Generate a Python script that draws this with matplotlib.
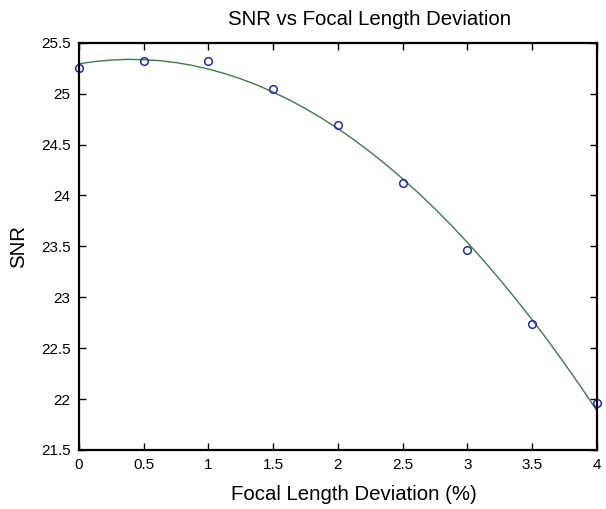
import numpy as np
import matplotlib
matplotlib.use("Agg")
import matplotlib.pyplot as plt

# measured SNR at each focal length deviation
deviation = [0, 0.5, 1, 1.5, 2, 2.5, 3, 3.5, 4]
snr = [25.25, 25.32, 25.32, 25.05, 24.69, 24.12, 23.46, 22.74, 21.96]

# fitted curve
fit_x = [0, 0.125, 0.25, 0.375, 0.5, 0.625, 0.75, 0.875, 1, 1.125, 1.25, 1.375,
         1.5, 1.625, 1.75, 1.875, 2, 2.125, 2.25, 2.375, 2.5, 2.625, 2.75, 2.875,
         3, 3.125, 3.25, 3.375, 3.5, 3.625, 3.75, 3.875, 4]
fit_y = [25.293, 25.316, 25.330, 25.337, 25.334, 25.324, 25.305, 25.278, 25.242,
         25.198, 25.146, 25.085, 25.016, 24.939, 24.853, 24.759, 24.657, 24.546,
         24.427, 24.300, 24.164, 24.021, 23.868, 23.708, 23.538, 23.361, 23.175,
         22.981, 22.779, 22.569, 22.349, 22.122, 21.886]

x_ticks = [0, 0.5, 1, 1.5, 2, 2.5, 3, 3.5, 4]
x_tick_labels = ["0", "0.5", "1", "1.5", "2", "2.5", "3", "3.5", "4"]
y_ticks = [21.5, 22, 22.5, 23, 23.5, 24, 24.5, 25, 25.5]
y_tick_labels = ["21.5", "22", "22.5", "23", "23.5", "24", "24.5", "25", "25.5"]

plt.rcParams['font.family'] = ['Liberation Sans', 'DejaVu Sans']

fig = plt.figure(figsize=(6.06, 5.09), dpi=100)
ax = fig.add_axes([0.130, 0.116, 0.855, 0.800])

ax.plot(fit_x, fit_y, color='#3f7a4f', linewidth=1.0)
ax.plot(deviation, snr, linestyle='none', marker='o', markersize=5.5,
        markerfacecolor='none', markeredgecolor='#2a2aa0', markeredgewidth=1.1,
        clip_on=False)

ax.set_xlim(0, 4)
ax.set_ylim(21.5, 25.5)
ax.set_xticks(x_ticks)
ax.set_xticklabels(x_tick_labels)
ax.set_yticks(y_ticks)
ax.set_yticklabels(y_tick_labels)
ax.tick_params(direction='in', length=5, width=1, top=True, right=True,
               labelsize=11)
ax.tick_params(axis='x', pad=6)
ax.tick_params(axis='y', pad=6)
for s in ax.spines.values():
    s.set_linewidth(1.6)

ax.set_title("SNR vs Focal Length Deviation", fontsize=14.7, pad=13, x=0.562)
ax.set_xlabel("Focal Length Deviation (%)", fontsize=14.7, labelpad=9, x=0.531)
ax.set_ylabel("SNR", fontsize=14.7, labelpad=9)

fig.savefig("out.png", dpi=100)
